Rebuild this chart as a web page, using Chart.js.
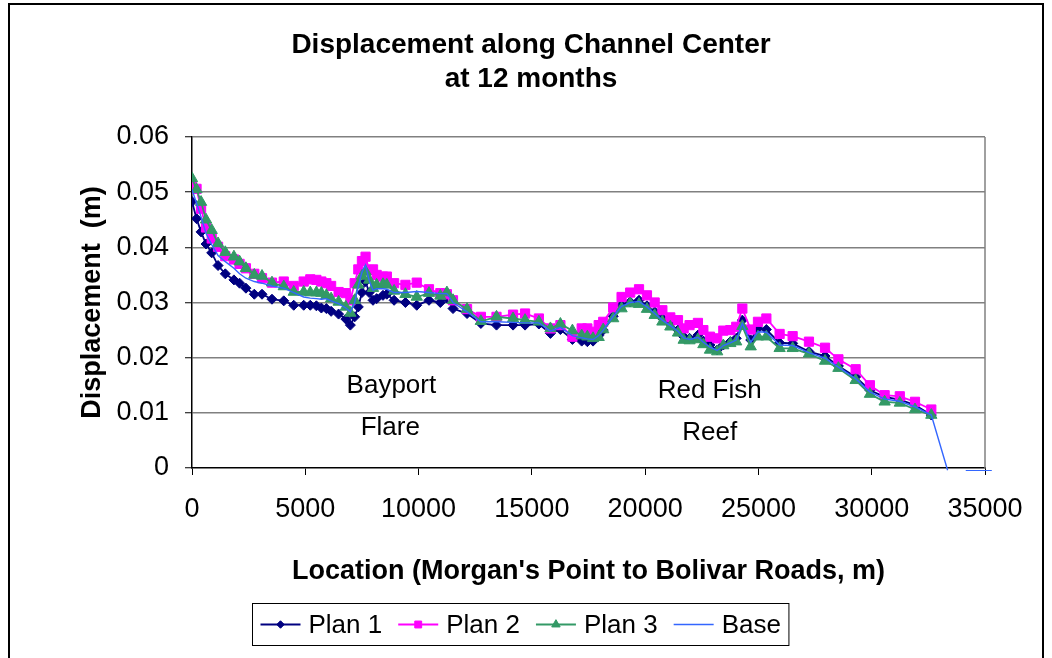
<!DOCTYPE html>
<html>
<head>
<meta charset="utf-8">
<title>Displacement along Channel Center</title>
<script src="https://cdn.jsdelivr.net/npm/chart.js@4/dist/chart.umd.min.js"></script>
<style>
  html, body { margin: 0; padding: 0; background: #fff; }
  #chart { display: block; }
</style>
</head>
<body>
<canvas id="chart" width="1052" height="658"></canvas>
<script>
// location along the channel (m), shared by all series
const locations = [
  0, 200, 400, 620, 870, 1150, 1470, 1850, 2100, 2380,
  2750, 3090, 3530, 4050, 4490, 4930, 5220, 5490, 5710, 5930,
  6140, 6470, 6790, 6990, 7180, 7340, 7500, 7660, 7820, 7990,
  8150, 8430, 8600, 8920, 9420, 9920, 10460, 10960, 11250, 11520,
  12140, 12750, 13440, 14170, 14700, 15310, 15820, 16260, 16790, 17200,
  17450, 17700, 17950, 18150, 18590, 18960, 19340, 19730, 20080, 20420,
  20760, 21110, 21450, 21700, 21960, 22330, 22570, 22860, 23180, 23450,
  23760, 24020, 24290, 24660, 24980, 25350, 25935, 26510, 27230, 27940,
  28530, 29290, 29920, 30570, 31240, 31910, 32630
];

// displacement (m)
const plan1 = [
  0.0483, 0.0452, 0.0428, 0.0406, 0.0390, 0.0367, 0.0352, 0.0341, 0.0335, 0.0326,
  0.0315, 0.0315, 0.0306, 0.0303, 0.0295, 0.0295, 0.0295, 0.0294, 0.0290, 0.0289,
  0.0284, 0.0279, 0.0270, 0.0259, 0.0274, 0.0292, 0.0318, 0.0338, 0.0318, 0.0304,
  0.0307, 0.0313, 0.0315, 0.0304, 0.0300, 0.0295, 0.0304, 0.0300, 0.0308, 0.0289,
  0.0280, 0.0262, 0.0259, 0.0259, 0.0259, 0.0261, 0.0244, 0.0251, 0.0233, 0.0230,
  0.0229, 0.0230, 0.0240, 0.0250, 0.0275, 0.0295, 0.0301, 0.0304, 0.0294, 0.0283,
  0.0271, 0.0261, 0.0250, 0.0238, 0.0235, 0.0241, 0.0230, 0.0223, 0.0214, 0.0223,
  0.0229, 0.0235, 0.0268, 0.0232, 0.0253, 0.0251, 0.0227, 0.0226, 0.0211, 0.0203,
  0.0185, 0.0165, 0.0141, 0.0129, 0.0124, 0.0114, 0.0096
];
const plan2 = [
  0.0511, 0.0506, 0.0470, 0.0436, 0.0416, 0.0401, 0.0384, 0.0378, 0.0370, 0.0362,
  0.0352, 0.0344, 0.0336, 0.0338, 0.0330, 0.0338, 0.0342, 0.0341, 0.0338, 0.0335,
  0.0330, 0.0319, 0.0317, 0.0304, 0.0335, 0.0360, 0.0375, 0.0383, 0.0359, 0.0360,
  0.0350, 0.0347, 0.0347, 0.0335, 0.0332, 0.0336, 0.0324, 0.0317, 0.0315, 0.0304,
  0.0288, 0.0274, 0.0274, 0.0278, 0.0280, 0.0271, 0.0253, 0.0259, 0.0238, 0.0253,
  0.0253, 0.0247, 0.0259, 0.0265, 0.0291, 0.0310, 0.0318, 0.0324, 0.0313, 0.0300,
  0.0286, 0.0273, 0.0268, 0.0253, 0.0259, 0.0263, 0.0250, 0.0238, 0.0235, 0.0249,
  0.0250, 0.0256, 0.0289, 0.0251, 0.0265, 0.0271, 0.0243, 0.0239, 0.0229, 0.0218,
  0.0197, 0.0179, 0.0150, 0.0132, 0.0130, 0.0120, 0.0106
];
const plan3 = [
  0.0525, 0.0505, 0.0482, 0.0450, 0.0431, 0.0407, 0.0391, 0.0383, 0.0374, 0.0362,
  0.0350, 0.0348, 0.0336, 0.0329, 0.0319, 0.0319, 0.0318, 0.0318, 0.0317, 0.0313,
  0.0307, 0.0301, 0.0292, 0.0281, 0.0304, 0.0332, 0.0348, 0.0356, 0.0341, 0.0326,
  0.0332, 0.0333, 0.0332, 0.0321, 0.0315, 0.0310, 0.0317, 0.0312, 0.0318, 0.0304,
  0.0288, 0.0266, 0.0274, 0.0271, 0.0268, 0.0265, 0.0253, 0.0261, 0.0249, 0.0240,
  0.0238, 0.0235, 0.0237, 0.0251, 0.0271, 0.0289, 0.0298, 0.0297, 0.0288, 0.0277,
  0.0265, 0.0256, 0.0245, 0.0232, 0.0231, 0.0233, 0.0224, 0.0214, 0.0211, 0.0222,
  0.0226, 0.0229, 0.0257, 0.0220, 0.0238, 0.0238, 0.0217, 0.0217, 0.0207, 0.0194,
  0.0181, 0.0159, 0.0134, 0.0120, 0.0118, 0.0106, 0.0096
];
const base = [
  0.0505, 0.0480, 0.0455, 0.0425, 0.0405, 0.0385, 0.0374, 0.0362, 0.0352, 0.0344,
  0.0338, 0.0335, 0.0330, 0.0326, 0.0318, 0.0310, 0.0308, 0.0307, 0.0306, 0.0307,
  0.0303, 0.0298, 0.0290, 0.0283, 0.0300, 0.0330, 0.0355, 0.0368, 0.0340, 0.0322,
  0.0325, 0.0325, 0.0324, 0.0318, 0.0318, 0.0320, 0.0318, 0.0316, 0.0316, 0.0300,
  0.0283, 0.0265, 0.0265, 0.0264, 0.0263, 0.0263, 0.0248, 0.0255, 0.0240, 0.0236,
  0.0234, 0.0233, 0.0240, 0.0250, 0.0275, 0.0293, 0.0300, 0.0302, 0.0292, 0.0280,
  0.0268, 0.0258, 0.0248, 0.0236, 0.0233, 0.0237, 0.0228, 0.0219, 0.0213, 0.0222,
  0.0227, 0.0232, 0.0262, 0.0228, 0.0247, 0.0246, 0.0223, 0.0222, 0.0209, 0.0199,
  0.0183, 0.0162, 0.0138, 0.0125, 0.0121, 0.0111, 0.0096
];
// base run continues past the last plan node, just under zero
const baseTailLocations = [33350, 33750, 34150, 35300];
const baseTailValues = [-0.0004, null, -0.0005, -0.0005];

const seriesNames = ['Plan 1', 'Plan 2', 'Plan 3', 'Base'];
const xTicks = [0, 5000, 10000, 15000, 20000, 25000, 30000, 35000];
const yTicks = [0, 0.01, 0.02, 0.03, 0.04, 0.05, 0.06];
const titleLines = ['Displacement along Channel Center', 'at 12 months'];
const xTitle = "Location (Morgan's Point to Bolivar Roads, m)";
const yTitle = 'Displacement  (m)';
const noteText = ['Bayport', 'Flare', 'Red Fish', 'Reef'];
const noteX = [8800, 8750, 22850, 22850];
const noteY = [0.0149, 0.0073, 0.0140, 0.0063];

const FONT = "'Liberation Sans', Arial, sans-serif";

function pts(xs, ys) {
  return xs.map((x, i) => ({ x: x, y: ys[i] }));
}

function series(name, values, color, style, radius, order) {
  return {
    label: name,
    data: pts(locations, values),
    borderColor: color,
    backgroundColor: color,
    pointBackgroundColor: color,
    pointBorderColor: color,
    pointStyle: style,
    pointRadius: radius,
    pointBorderWidth: 1,
    borderWidth: 1.8,
    tension: 0,
    order: order
  };
}

const datasets = [
  series(seriesNames[0], plan1, '#000080', 'rectRot', 5, 4),
  series(seriesNames[1], plan2, '#ff00ff', 'rect', 6.5, 3),
  series(seriesNames[2], plan3, '#339966', 'triangle', 6.5, 2),
  {
    label: seriesNames[3],
    data: pts(locations.concat(baseTailLocations), base.concat(baseTailValues)),
    borderColor: '#3366ff',
    backgroundColor: '#3366ff',
    pointRadius: 0,
    pointStyle: false,
    borderWidth: 1.4,
    tension: 0,
    spanGaps: false,
    clip: { left: 0, top: 0, right: 8, bottom: 3 },
    order: 1
  }
];

const decor = {
  id: 'decor',
  beforeDraw(chart) {
    const ctx = chart.ctx;
    ctx.save();
    ctx.fillStyle = '#fff';
    ctx.fillRect(0, 0, chart.width, chart.height);
    ctx.strokeStyle = '#000';
    ctx.lineWidth = 2;
    ctx.strokeRect(9, 4, 1034, 700);
    ctx.restore();
  },
  beforeDatasetsDraw(chart) {
    // grey frame on the right side of the plot area
    const { ctx, chartArea } = chart;
    ctx.save();
    ctx.strokeStyle = '#808080';
    ctx.lineWidth = 1.5;
    ctx.beginPath();
    ctx.moveTo(chartArea.right, chartArea.top);
    ctx.lineTo(chartArea.right, chartArea.bottom);
    ctx.stroke();
    ctx.restore();
  },
  afterDraw(chart) {
    const { ctx, scales } = chart;
    ctx.save();
    ctx.fillStyle = '#000';
    ctx.textAlign = 'center';
    ctx.textBaseline = 'middle';

    // title
    ctx.font = 'bold 28px ' + FONT;
    ctx.fillText(titleLines[0], 531, 45);
    ctx.fillText(titleLines[1], 531, 79);

    // region notes
    ctx.font = '26px ' + FONT;
    noteText.forEach((t, i) => {
      ctx.fillText(t, scales.x.getPixelForValue(noteX[i]), scales.y.getPixelForValue(noteY[i]));
    });

    // legend
    const seg = 40, gapText = 8, gapItem = 16, pad = 8;
    const widths = chart.data.datasets.map(d => ctx.measureText(d.label).width);
    const total = widths.reduce((a, w) => a + seg + gapText + w, 0) + gapItem * (widths.length - 1) + pad * 2;
    const boxLeft = Math.round(520 - total / 2) + 0.5;
    const boxTop = 603.5, boxH = 42;
    ctx.strokeStyle = '#000';
    ctx.lineWidth = 1;
    ctx.strokeRect(boxLeft, boxTop, total, boxH);
    const cy = boxTop + boxH / 2;
    let x = boxLeft + pad;
    ctx.textAlign = 'left';
    chart.data.datasets.forEach((d, i) => {
      ctx.strokeStyle = d.borderColor;
      ctx.lineWidth = d.borderWidth;
      ctx.beginPath();
      ctx.moveTo(x, cy);
      ctx.lineTo(x + seg, cy);
      ctx.stroke();
      if (d.pointStyle) {
        ctx.fillStyle = d.borderColor;
        ctx.strokeStyle = d.borderColor;
        ctx.lineWidth = 1;
        Chart.helpers.drawPoint(ctx, {
          pointStyle: d.pointStyle,
          radius: d.pointRadius * 0.75,
          borderWidth: 1,
          rotation: 0
        }, x + seg / 2, cy);
      }
      ctx.fillStyle = '#000';
      ctx.fillText(d.label, x + seg + gapText, cy + 1);
      x += seg + gapText + widths[i] + gapItem;
    });
    ctx.restore();
  }
};

new Chart(document.getElementById('chart'), {
  type: 'line',
  data: { datasets: datasets },
  plugins: [decor],
  options: {
    responsive: false,
    animation: false,
    devicePixelRatio: 1,
    layout: { padding: { left: 20, right: 67, top: 137, bottom: 60 } },
    plugins: {
      legend: { display: false },
      tooltip: { enabled: false },
      title: { display: false }
    },
    scales: {
      x: {
        type: 'linear',
        min: 0,
        max: 35000,
        afterFit: s => { s.height = 130; },
        afterBuildTicks: s => { s.ticks = xTicks.map(v => ({ value: v })); },
        ticks: {
          color: '#000',
          font: { family: FONT, size: 27 },
          padding: 18,
          maxRotation: 0,
          autoSkip: false,
          callback: v => String(v)
        },
        grid: { drawOnChartArea: false, tickLength: 7, tickColor: '#000', tickWidth: 1 },
        border: { color: '#000', width: 1.5 },
        title: {
          display: true,
          text: xTitle,
          color: '#000',
          font: { family: FONT, size: 27, weight: 'bold' },
          padding: { top: 0, bottom: 10 }
        }
      },
      y: {
        min: 0,
        max: 0.06,
        afterFit: s => { s.width = 172; },
        afterBuildTicks: s => { s.ticks = yTicks.map(v => ({ value: v })); },
        ticks: {
          color: '#000',
          font: { family: FONT, size: 27 },
          padding: 16,
          callback: v => String(+v.toFixed(2))
        },
        grid: {
          color: c => (c.tick && c.tick.value === 0 ? 'rgba(0,0,0,0)' : '#808080'),
          lineWidth: 1.5,
          tickLength: 7,
          tickColor: '#000',
          tickWidth: 1
        },
        border: { color: '#000', width: 1.5 },
        title: {
          display: true,
          text: yTitle,
          color: '#000',
          font: { family: FONT, size: 27, weight: 'bold' },
          padding: { top: 56, bottom: 0 }
        }
      }
    }
  }
});
</script>
</body>
</html>
